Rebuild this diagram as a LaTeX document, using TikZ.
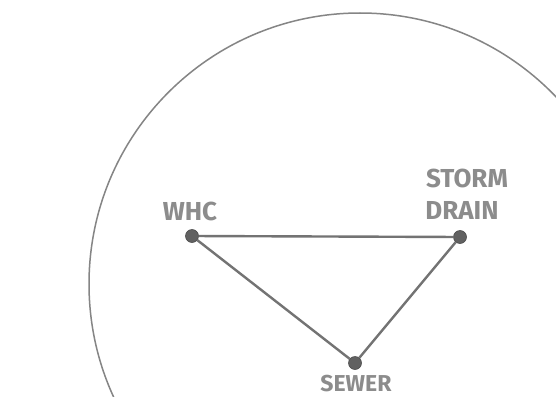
\documentclass[tikz,border=0pt]{standalone}
\usepackage{fontspec}
\setmainfont{Fira Sans}
\begin{document}
\begin{tikzpicture}[x=1pt,y=-1pt,
  dotnode/.style={circle,fill=black!62,draw=black!70,line width=0.6pt,inner sep=0pt,minimum size=13pt},
  edge/.style={draw=black!55,line width=2.4pt},
  lbl/.style={text=black!45,font=\fontsize{26}{28}\selectfont\bfseries,align=center,inner sep=0pt},
  rim/.style={draw=black!48,line width=1.5pt}]
\useasboundingbox (0,0) rectangle (556,396);
\clip (0,0) rectangle (556,396);
\fill[white] (0,0) rectangle (556,396);
\draw[rim] (360,284) circle[radius=271];
\node[dotnode] (whc) at (192,236) {};
\node[dotnode] (storm) at (460,237) {};
\node[dotnode] (sewer) at (355,363) {};
\draw[edge] (whc) -- (storm);
\draw[edge] (whc) -- (sewer);
\draw[edge] (storm) -- (sewer);
\node[lbl,anchor=base] (whclbl) at (190,220) {WHC};
\node[lbl,anchor=base] (stormlbl) at (467,187) {STORM};
\node[lbl,anchor=base] (drainlbl) at (462,219) {DRAIN};
\node[lbl,anchor=base,font=\fontsize{23}{25}\selectfont\bfseries] (sewerlbl) at (356,391) {SEWER};
\end{tikzpicture}
\end{document}
